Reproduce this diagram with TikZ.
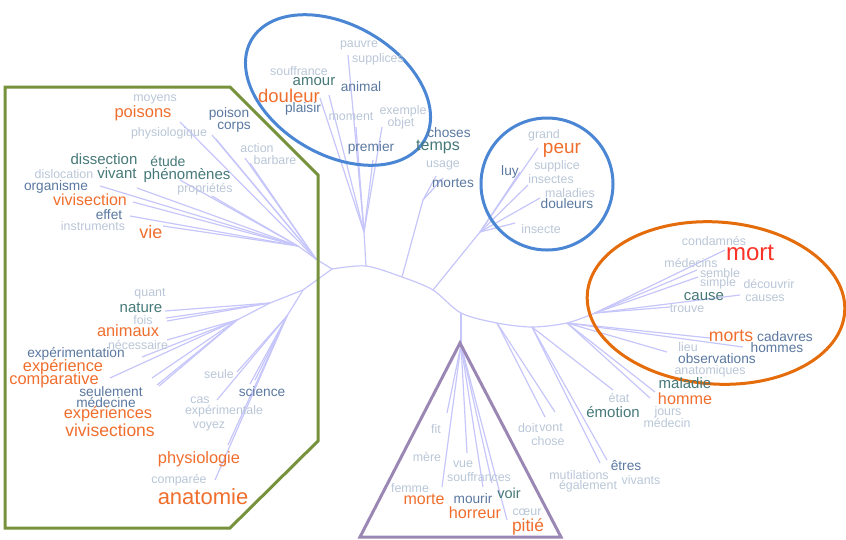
\documentclass[tikz,border=0pt]{standalone}
\usepackage{fontspec}
\setmainfont{Liberation Sans}
\definecolor{treec}{RGB}{198,198,250}
\definecolor{orng}{RGB}{240,110,45}
\definecolor{redm}{RGB}{250,50,40}
\definecolor{tealw}{RGB}{70,120,120}
\definecolor{slatew}{RGB}{90,120,160}
\definecolor{lgrey}{RGB}{185,198,215}
\definecolor{grn}{RGB}{118,146,60}
\definecolor{blu}{RGB}{74,134,212}
\definecolor{orl}{RGB}{228,108,10}
\definecolor{purp}{RGB}{155,135,180}
\tikzset{
  tree/.style={draw=treec, line width=1.2pt},
  wd/.style={inner sep=0pt, anchor=center},
  gw/.style={wd, text=lgrey, font=\fontsize{12.4}{13}\selectfont},
  sw/.style={wd, text=slatew, font=\fontsize{13.7}{14}\selectfont},
  tw/.style={wd, text=tealw, font=\fontsize{15}{16}\selectfont},
  ow/.style={wd, text=orng, font=\fontsize{16.4}{17}\selectfont},
  fs/.style={font=\fontsize{#1}{#1}\selectfont},
  frame/.style={line width=3pt}
}
\begin{document}
\begin{tikzpicture}[x=1pt,y=-1pt]
\useasboundingbox (0,0) rectangle (846,539);
% ---------- hubs ----------
\coordinate (A) at (332,269);
\coordinate (B) at (366,266);
\coordinate (C) at (402,277);
\coordinate (D) at (433,290);
\coordinate (E) at (461,313);
\coordinate (F) at (497,323);
\coordinate (G) at (532,327);
\coordinate (H) at (567,323);
\coordinate (I) at (595,313);
\coordinate (UL0) at (316,259);
\coordinate (UL1) at (298,246);
\coordinate (LL0) at (303,290);
\coordinate (LL1) at (270,303);
\coordinate (LL2) at (237,320);
\coordinate (LL3) at (287,316);
\coordinate (B1) at (364,232);
\coordinate (C1) at (423,200);
\coordinate (D1) at (480,232);
\coordinate (T0) at (461,345);
% spine
\draw[tree] plot[smooth] coordinates {(A) (B) (C) (D) (E) (F) (G) (H) (I)};
% upper left
\draw[tree] (A) -- (UL0) -- (UL1);
\foreach \p in {(100,186),(137,188),(133,202),(130,216),(163,226),(180,180),(212,196)}
  \draw[tree] (UL1) -- \p;
\foreach \p in {(180,122),(212,135),(216,139),(245,158),(250,163)}
  \draw[tree] (UL0) -- \p;
% lower left
\draw[tree] (A) -- (LL0) -- (LL1) -- (LL2);
\foreach \p in {(165,311),(166,318),(167,321)}
  \draw[tree] (LL1) -- \p;
\foreach \p in {(167,340),(142,357),(110,378),(152,378),(157,385),(159,386)}
  \draw[tree] (LL2) -- \p;
\draw[tree] (LL0) -- (LL3);
\foreach \p in {(237,372),(217,400),(250,384),(255,380),(215,480),(228,445)}
  \draw[tree] (LL3) -- \p;
% top
\draw[tree] (B) -- (B1);
\foreach \p in {(320,98),(329,95),(348,55),(356,127),(382,127),(373,160)}
  \draw[tree] (B1) -- \p;
\draw[tree] (C) -- (C1);
\foreach \p in {(436,176),(443,178)}
  \draw[tree] (C1) -- \p;
\draw[tree] (D) -- (D1);
\foreach \p in {(538,148),(520,172),(528,185),(540,198),(515,223)}
  \draw[tree] (D1) -- \p;
% triangle fan
\draw[tree] (E) -- (T0);
\foreach \p in {(447,413),(442,487),(467,453),(483,487),(492,483),(507,520)}
  \draw[tree] (T0) -- \p;
% right lower
\foreach \p in {(545,417),(555,412)}
  \draw[tree] (F) -- \p;
\foreach \p in {(600,463),(607,460),(613,390)}
  \draw[tree] (G) -- \p;
\foreach \p in {(650,398),(655,392),(667,352),(710,338),(743,347)}
  \draw[tree] (H) -- \p;
\foreach \p in {(725,250),(697,270),(698,277),(740,295),(670,307)}
  \draw[tree] (I) -- \p;
% ---------- frames ----------
\draw[frame, grn, line join=miter] (5,87) -- (230,87) -- (318,175) -- (318,441) -- (230,528) -- (5,528) -- cycle;
\draw[frame, blu, rotate around={-30:(338,90)}] (338,90) ellipse [x radius=100pt, y radius=65pt];
\draw[frame, blu] (547,184) ellipse [x radius=66pt, y radius=66pt];
\draw[frame, orl, rotate around={-4:(716,303)}] (716,303) ellipse [x radius=129pt, y radius=81pt];
\draw[frame, purp, line join=miter] (460,343) -- (561,537) -- (360,537) -- cycle;
% ---------- words: left box ----------
\node[gw] (w1) at (155,99) {moyens};
\node[ow, fs=16.5] (w2) at (143,113) {poisons};
\node[sw] (w3) at (229,114) {poison};
\node[sw] (w4) at (234,127) {corps};
\node[gw] (w5) at (169,133) {physiologique};
\node[gw] (w6) at (257,148) {action};
\node[gw] (w7) at (275,160) {barbare};
\node[tw] (w8) at (104,159) {dissection};
\node[tw, fs=14] (w9) at (168,161) {étude};
\node[tw] (w10) at (117,173) {vivant};
\node[gw] (w11) at (64,174) {dislocation};
\node[tw] (w12) at (187,176) {phénomènes};
\node[sw] (w13) at (56,187) {organisme};
\node[gw] (w14) at (205,189) {propriétés};
\node[ow, fs=16] (w15) at (90,200) {vivisection};
\node[sw] (w16) at (109,215) {effet};
\node[gw] (w17) at (93,226) {instruments};
\node[ow, fs=18] (w18) at (151,232) {vie};
\node[gw] (w19) at (150,294) {quant};
\node[tw] (w20) at (141,308) {nature};
\node[gw] (w21) at (143,320) {fois};
\node[ow] (w22) at (128,331) {animaux};
\node[gw] (w23) at (138,345) {nécessaire};
\node[sw] (w24) at (76,354) {expérimentation};
\node[ow] (w25) at (63,367) {expérience};
\node[ow] (w26) at (54,380) {comparative};
\node[sw] (w27) at (111,392) {seulement};
\node[sw] (w28) at (106,403) {médecine};
\node[gw] (w29) at (219,374) {seule};
\node[sw] (w30) at (262,392) {science};
\node[gw] (w31) at (200,400) {cas};
\node[gw] (w32) at (224,411) {expérimentale};
\node[ow] (w33) at (108,414) {expériences};
\node[ow, fs=17.5] (w34) at (110,430) {vivisections};
\node[gw] (w35) at (209,426) {voyez};
\node[ow] (w36) at (199,459) {physiologie};
\node[gw] (w37) at (179,480) {comparée};
\node[ow, fs=22] (w38) at (203,497) {anatomie};
% ---------- top ellipse ----------
\node[gw] (w39) at (359,45) {pauvre};
\node[gw] (w40) at (378,59) {supplices};
\node[gw] (w41) at (299,71) {souffrance};
\node[tw] (w42) at (314,82) {amour};
\node[sw] (w43) at (361,87) {animal};
\node[ow, fs=18.5] (w44) at (289,96) {douleur};
\node[sw] (w45) at (303,109) {plaisir};
\node[gw] (w46) at (403,111) {exemple};
\node[gw] (w47) at (351,117) {moment};
\node[gw] (w48) at (401,123) {objet};
\node[sw] (w49) at (371,148) {premier};
\node[sw] (w50) at (449,133) {choses};
\node[tw, fs=16] (w51) at (438,147) {temps};
\node[gw] (w52) at (443,165) {usage};
\node[sw] (w53) at (453,183) {mortes};
% ---------- circle ----------
\node[gw] (w54) at (544,135) {grand};
\node[ow, fs=19] (w55) at (562,150) {peur};
\node[gw] (w56) at (557,166) {supplice};
\node[sw] (w57) at (510,172) {luy};
\node[gw] (w58) at (551,179) {insectes};
\node[gw] (w59) at (570,193) {maladies};
\node[sw] (w60) at (567,204) {douleurs};
\node[gw] (w61) at (541,229) {insecte};
% ---------- orange ellipse ----------
\node[gw] (w62) at (714,241) {condamnés};
\node[wd, text=redm, fs=24] (w63) at (750,253) {mort};
\node[gw] (w64) at (691,263) {médecins};
\node[gw] (w65) at (720,273) {semble};
\node[gw] (w66) at (718,283) {simple};
\node[gw] (w67) at (769,284) {découvrir};
\node[tw] (w68) at (704,297) {cause};
\node[gw] (w69) at (765,298) {causes};
\node[gw] (w70) at (687,309) {trouve};
\node[ow, fs=17.7] (w71) at (731,336) {morts};
\node[sw] (w72) at (785,337) {cadavres};
\node[sw] (w73) at (777,348) {hommes};
\node[gw] (w74) at (688,347) {lieu};
\node[sw] (w75) at (717,359) {observations};
\node[gw] (w76) at (710,371) {anatomiques};
\node[tw] (w77) at (685,383) {maladie};
% ---------- lower right ----------
\node[gw] (w78) at (619,398) {état};
\node[ow, fs=16.2] (w79) at (685,399) {homme};
\node[tw] (w80) at (613,412) {émotion};
\node[gw] (w81) at (668,412) {jours};
\node[gw] (w82) at (667,423) {médecin};
\node[gw] (w83) at (528,428) {doit};
\node[gw] (w84) at (551,428) {vont};
\node[gw] (w85) at (548,441) {chose};
\node[sw] (w86) at (626,466) {êtres};
\node[gw] (w87) at (579,475) {mutilations};
\node[gw] (w88) at (641,480) {vivants};
\node[gw] (w89) at (588,486) {également};
% ---------- triangle ----------
\node[gw] (w90) at (436,429) {fit};
\node[gw] (w91) at (427,457) {mère};
\node[gw] (w92) at (463,464) {vue};
\node[gw] (w93) at (479,477) {souffrances};
\node[gw] (w94) at (410,488) {femme};
\node[ow, fs=16] (w95) at (424,499) {morte};
\node[sw] (w96) at (473,499) {mourir};
\node[tw, fs=14.5] (w97) at (509,493) {voir};
\node[ow, fs=16.2] (w98) at (475,513) {horreur};
\node[gw] (w99) at (527,512) {cœur};
\node[ow, fs=17.4] (w100) at (528,527) {pitié};
\end{tikzpicture}
\end{document}
